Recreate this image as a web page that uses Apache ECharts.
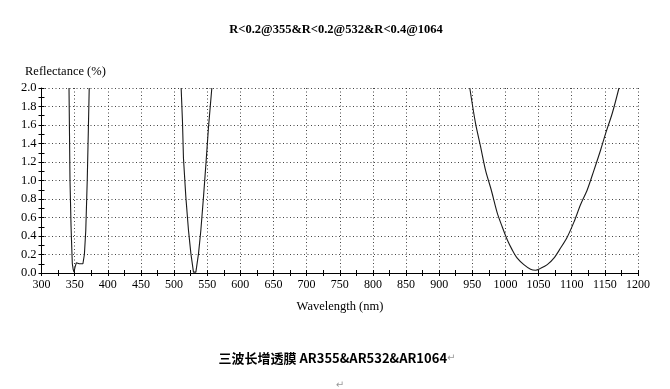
<!DOCTYPE html>
<html>
<head>
<meta charset="utf-8">
<script src="https://cdn.jsdelivr.net/npm/echarts@6/dist/echarts.min.js"></script>
<style>
html,body{margin:0;padding:0;background:#fff;}
#chart{width:670px;height:389px;}
</style>
</head>
<body>
<div id="chart"></div>
<script>
// Band 1: around 355 nm
var wl355 = [341.5, 343, 344.6, 346, 346.5, 347.8, 349, 350.5, 352.5, 354.5, 357, 360, 362.5, 364.7, 366.8, 369, 370.7, 372];
var r355  = [2.0, 1.0, 0.5, 0.2, 0.1, 0.04, 0.01, 0.06, 0.11, 0.09, 0.1, 0.1, 0.1, 0.2, 0.46, 1.0, 1.55, 2.0];
// Band 2: around 532 nm
var wl532 = [510.7, 512.7, 514.2, 517.8, 521.8, 525.4, 529.3, 531, 532.9, 536.9, 540.4, 544.4, 548.5, 552, 557];
var r532  = [2.0, 1.64, 1.24, 0.82, 0.46, 0.21, 0.01, 0.0, 0.01, 0.21, 0.46, 0.82, 1.22, 1.58, 2.0];
// Band 3: around 1064 nm
var wl1064 = [946.2, 954.8, 962.4, 970, 978.5, 987.6, 995.1, 1002.7, 1010.2, 1017.8, 1027.8, 1037.9, 1045.5, 1053, 1063.1, 1073.1, 1083.2, 1093.3, 1103.3, 1113.4, 1123.5, 1133.5, 1143.6, 1151.2, 1161.3, 1171.3];
var r1064  = [2.0, 1.62, 1.37, 1.11, 0.9, 0.65, 0.5, 0.36, 0.25, 0.16, 0.09, 0.04, 0.03, 0.05, 0.09, 0.16, 0.27, 0.39, 0.55, 0.74, 0.9, 1.11, 1.33, 1.51, 1.73, 2.0];

var xTicks = [300, 1200, 50];
var yTicks = [0, 2.0, 0.2];

var titleText = 'R<0.2@355&R<0.2@532&R<0.4@1064';
var yName = 'Reflectance (%)';
var xName = 'Wavelength (nm)';
var caption = '三波长增透膜 AR355&AR532&AR1064';

function pairs(xs, ys){ return xs.map(function(x,i){ return [x, ys[i]]; }); }

var serif = '"Liberation Serif", "Times New Roman", serif';
var lineStyle = {color:'#1a1a1a', width:1.1};

var chart = echarts.init(document.getElementById('chart'), null, {renderer:'canvas'});
chart.setOption({
  animation:false,
  backgroundColor:'#fff',
  grid:{left:41.5, right:32, top:88, bottom:116, containLabel:false},
  title:[
    {text:titleText, left:331, top:18, textAlign:'center',
     textStyle:{fontFamily:serif, fontSize:12.5, fontWeight:'bold', color:'#000'}},
    {text:yName, left:20, top:60,
     textStyle:{fontFamily:serif, fontSize:12.5, fontWeight:'normal', color:'#000'}},
    {text:xName, left:335, top:295, textAlign:'center',
     textStyle:{fontFamily:serif, fontSize:12.5, fontWeight:'normal', color:'#000'}},
    {text:caption + '{r|↵}', left:332, top:347, textAlign:'center',
     textStyle:{fontFamily:'"Noto Sans CJK SC", "Noto Sans", sans-serif', fontSize:13, fontWeight:'bold', color:'#000',
       rich:{r:{fontSize:10, color:'#999', fontWeight:'normal', fontFamily:'"DejaVu Sans", sans-serif'}}}},
    {text:'↵', left:335, top:375, textAlign:'center',
     textStyle:{fontSize:10, color:'#999', fontWeight:'normal', fontFamily:'"DejaVu Sans", sans-serif'}}
  ],
  xAxis:[
    {type:'value', min:xTicks[0], max:xTicks[1], interval:xTicks[2],
     axisLine:{show:true, lineStyle:{color:'#000', width:1}},
     axisTick:{show:true, length:3, lineStyle:{color:'#000'}},
     minorTick:{show:true, splitNumber:2, length:3, lineStyle:{color:'#000'}},
     axisLabel:{fontFamily:serif, fontSize:12, color:'#000', margin:6,
       formatter:function(v){return String(v);}},
     splitLine:{show:true, lineStyle:{color:'#444', width:1, type:[1,2.5]}}},
    {type:'value', min:xTicks[0], max:xTicks[1], interval:xTicks[2], position:'bottom',
     axisLine:{show:false},
     axisTick:{show:true, inside:true, length:3, lineStyle:{color:'#000'}},
     minorTick:{show:true, splitNumber:2, length:3, lineStyle:{color:'#000'}},
     axisLabel:{show:false}, splitLine:{show:false}}
  ],
  yAxis:[
    {type:'value', min:yTicks[0], max:yTicks[1], interval:yTicks[2],
     axisLine:{show:true, lineStyle:{color:'#000', width:1}},
     axisTick:{show:true, length:3, lineStyle:{color:'#000'}},
     minorTick:{show:true, splitNumber:2, length:3, lineStyle:{color:'#000'}},
     axisLabel:{fontFamily:serif, fontSize:12.5, color:'#000', margin:5,
       formatter:function(v){return v.toFixed(1);}},
     splitLine:{show:true, lineStyle:{color:'#444', width:1, type:[1,2.5]}}},
    {type:'value', min:yTicks[0], max:yTicks[1], interval:yTicks[2], position:'left',
     axisLine:{show:false},
     axisTick:{show:true, inside:true, length:3, lineStyle:{color:'#000'}},
     minorTick:{show:true, splitNumber:2, length:3, lineStyle:{color:'#000'}},
     axisLabel:{show:false}, splitLine:{show:false}}
  ],
  series:[
    {type:'line', data:pairs(wl355, r355), showSymbol:false, lineStyle:lineStyle, xAxisIndex:0, yAxisIndex:0},
    {type:'line', data:pairs(wl532, r532), showSymbol:false, lineStyle:lineStyle, xAxisIndex:0, yAxisIndex:0},
    {type:'line', data:pairs(wl1064, r1064), showSymbol:false, smooth:0.3, lineStyle:lineStyle, xAxisIndex:0, yAxisIndex:0}
  ]
});
</script>
</body>
</html>
